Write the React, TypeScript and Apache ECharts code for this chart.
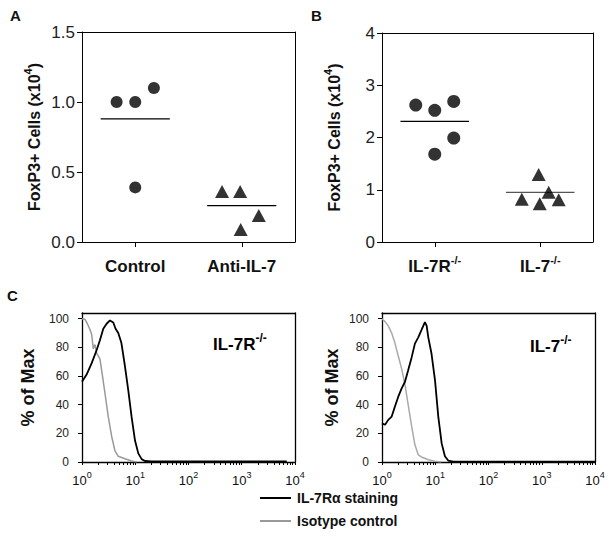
import React, { useEffect, useRef } from "react";
import * as echarts from "echarts";

// ---------- Data ----------
const groupLabelsA = ["Control", "Anti-IL-7"];
const groupLabelsB = [["IL-7R", "-/-"], ["IL-7", "-/-"]];
const groupCenters = [1, 3];

const controlA = [[0.65, 1.0], [1.0, 1.0], [1.35, 1.1], [1.0, 0.39]];
const antiIL7A = [[2.63, 0.36], [2.97, 0.36], [3.32, 0.19], [2.98, 0.09]];
const meansA = [0.88, 0.26];

const il7rKoB = [[0.64, 2.62], [1.0, 2.52], [1.36, 2.69], [1.36, 1.99], [1.0, 1.68]];
const il7KoB = [[2.65, 0.82], [2.99, 0.73], [3.35, 0.81], [3.16, 0.95], [2.97, 1.29]];
const meansB = [2.31, 0.95];

const yTicksA = [0, 0.5, 1.0, 1.5];
const yTicksB = [0, 1, 2, 3, 4];
const yTicksC = [0, 20, 40, 60, 80, 100];
const xDecades = [1, 10, 100, 1000, 10000];
const xDecadeExp = ["0", "1", "2", "3", "4"];
const xMinorTicks = [
  2, 3, 4, 5, 6, 7, 8, 9, 20, 30, 40, 50, 60, 70, 80, 90,
  200, 300, 400, 500, 600, 700, 800, 900, 2000, 3000, 4000, 5000, 6000, 7000, 8000, 9000,
];

// IL-7R-/- histograms
const leftStainX = [1, 1.22, 1.52, 1.88, 2.17, 2.51, 2.9, 3.35, 3.87, 4.27, 4.8, 5.5, 6.4, 7.4, 8.5, 9.9, 11.4, 13.2, 15.2, 20, 100, 1000, 7000];
const leftStainY = [56, 61, 69, 78, 85, 93, 96.5, 98.8, 97.4, 93, 90, 83, 67, 50, 32, 15, 6, 2, 0.7, 0.4, 0.4, 0.4, 0.4];
const leftIsoX = [1, 1.14, 1.28, 1.41, 1.52, 1.63, 1.75, 1.88, 2.17, 2.34, 2.7, 3.1, 3.6, 4.15, 4.8, 6.4, 8.5, 10.6];
const leftIsoY = [100, 99.5, 96, 92.5, 89, 79, 82, 76, 72, 64, 48, 32, 18, 8, 4, 2.3, 0.7, 0];
// IL-7-/- histograms
const rightStainX = [1, 1.14, 1.31, 1.52, 1.75, 2.02, 2.34, 2.7, 3.1, 3.6, 4.15, 4.8, 5.5, 6.4, 6.9, 7.4, 8.5, 9.9, 11.4, 13.2, 15.2, 17.5, 21.8, 100, 1000, 10000];
const rightStainY = [27, 26, 29.4, 31.7, 38.7, 45.6, 51.4, 56, 64, 73, 82.6, 87, 92, 97.7, 95, 87, 75.7, 57, 31.7, 13, 4, 1, 0.2, 0.2, 0.2, 0.2];
const rightIsoX = [1, 1.14, 1.31, 1.52, 1.75, 2.02, 2.34, 2.7, 3.1, 3.6, 4.15, 4.8, 5.5, 7.4, 9.9, 13];
const rightIsoY = [100, 98, 95, 90, 83, 74, 65, 54, 40, 25, 12, 5, 3.5, 1.6, 0.5, 0];

const seriesNames = ["IL-7R\u03b1 staining", "Isotype control"];

// ---------- Styles ----------
const FONT = "'Liberation Sans', Arial, sans-serif";
const MEAN_HALF = 0.65;

const zip = (xs: number[], ys: number[]) => xs.map((x, i) => [x, ys[i]]);

const supRich = (size: number, supSize: number, weight: string) => ({
  b: { fontFamily: FONT, fontSize: size, fontWeight: weight, color: "#111", lineHeight: size + 4, verticalAlign: "bottom" },
  s: { fontFamily: FONT, fontSize: supSize, fontWeight: weight, color: "#111", lineHeight: supSize + 2, verticalAlign: "top" },
});

function plotGrid(left: number, top: number, width: number, height: number) {
  return { left, top, width, height };
}

function catXAxis(gridIndex: number, formatter: (v: number) => string, rich: any) {
  return {
    type: "value",
    gridIndex,
    min: 0,
    max: 4,
    splitLine: { show: false },
    axisLine: { show: true, lineStyle: { color: "#000", width: 1 } },
    axisTick: { show: true, customValues: groupCenters, length: 5, lineStyle: { color: "#000" } },
    axisLabel: { customValues: groupCenters, formatter, margin: 12, rich, fontFamily: FONT },
  };
}

function frameAxis(gridIndex: number, position: string, type: string, min: number, max: number, width: number) {
  return {
    type,
    gridIndex,
    position,
    min,
    max,
    splitLine: { show: false },
    axisLine: { show: true, onZero: false, lineStyle: { color: "#000", width } },
    axisTick: { show: false },
    axisLabel: { show: false },
  };
}

function valYAxis(gridIndex: number, max: number, ticks: number[], fmt: (v: number) => string) {
  return {
    type: "value",
    gridIndex,
    min: 0,
    max,
    name: "{b|FoxP3+ Cells (x10}{s|4}{b|)}",
    nameLocation: "middle",
    nameGap: 40,
    nameRotate: 90,
    nameTextStyle: { rich: supRich(16, 11, "bold") },
    splitLine: { show: false },
    axisLine: { show: true, lineStyle: { color: "#000", width: 1 } },
    axisTick: { show: true, customValues: ticks, length: 5, lineStyle: { color: "#000" } },
    axisLabel: { customValues: ticks, formatter: fmt, fontFamily: FONT, fontSize: 17, color: "#222", margin: 7 },
  };
}

function logXAxis(gridIndex: number) {
  return {
    type: "log",
    logBase: 10,
    gridIndex,
    min: 1,
    max: 10000,
    splitLine: { show: false },
    axisLine: { show: true, lineStyle: { color: "#000", width: 1.3 } },
    axisTick: { show: true, customValues: [...xDecades, ...xMinorTicks], length: 3, lineStyle: { color: "#000" } },
    axisLabel: {
      customValues: xDecades,
      formatter: (v: number) => {
        const i = xDecades.findIndex((d) => Math.abs(d - v) / d < 1e-6);
        return `{b|10}{s|${i >= 0 ? xDecadeExp[i] : ""}}`;
      },
      margin: 8,
      rich: supRich(13, 9, "normal"),
    },
  };
}

function pctYAxis(gridIndex: number, nameGap: number) {
  return {
    type: "value",
    gridIndex,
    min: 0,
    max: 104,
    name: "% of Max",
    nameLocation: "middle",
    nameGap,
    nameRotate: 90,
    nameTextStyle: { fontFamily: FONT, fontSize: 18, fontWeight: "bold", color: "#111" },
    splitLine: { show: false },
    axisLine: { show: true, lineStyle: { color: "#000", width: 1.3 } },
    axisTick: { show: true, customValues: yTicksC, length: 4, lineStyle: { color: "#000" } },
    axisLabel: { customValues: yTicksC, fontFamily: FONT, fontSize: 12, color: "#222", margin: 13 },
  };
}

function meanLine(xi: number, yi: number, center: number, mean: number, color: string) {
  return {
    type: "line",
    xAxisIndex: xi,
    yAxisIndex: yi,
    data: [[center - MEAN_HALF, mean], [center + MEAN_HALF, mean]],
    showSymbol: false,
    symbol: "none",
    lineStyle: { color, width: 1.3 },
    silent: true,
    z: 1,
  };
}

function histo(xi: number, name: string, xs: number[], ys: number[], color: string, width: number) {
  return {
    type: "line",
    name,
    xAxisIndex: xi,
    yAxisIndex: xi,
    data: zip(xs, ys),
    showSymbol: false,
    symbol: "none",
    lineStyle: { color, width },
    itemStyle: { color },
    z: name === seriesNames[0] ? 3 : 2,
  };
}

export default function App() {
  const ref = useRef<HTMLDivElement>(null);
  useEffect(() => {
    if (!ref.current) return;
    const chart = echarts.init(ref.current, undefined, { renderer: "svg" });
    const catRich = supRich(17, 11, "bold");
    const option: any = {
      animation: false,
      backgroundColor: "#fff",
      textStyle: { fontFamily: FONT },
      grid: [
        plotGrid(82, 32, 213, 210),
        plotGrid(382, 33, 211, 209),
        plotGrid(82, 313, 213, 149),
        plotGrid(382, 313, 213, 149),
      ],
      xAxis: [
        catXAxis(0, (v: number) => `{b|${groupLabelsA[groupCenters.indexOf(v)] ?? ""}}`, catRich),
        catXAxis(1, (v: number) => {
          const g = groupLabelsB[groupCenters.indexOf(v)];
          return g ? `{b|${g[0]}}{s|${g[1]}}` : "";
        }, catRich),
        logXAxis(2),
        logXAxis(3),
        frameAxis(0, "top", "value", 0, 4, 1),
        frameAxis(1, "top", "value", 0, 4, 1),
        frameAxis(2, "top", "value", 0, 4, 1.3),
        frameAxis(3, "top", "value", 0, 4, 1.3),
      ],
      yAxis: [
        valYAxis(0, 1.5, yTicksA, (v: number) => v.toFixed(1)),
        valYAxis(1, 4, yTicksB, (v: number) => String(v)),
        pctYAxis(2, 45),
        pctYAxis(3, 41),
        frameAxis(0, "right", "value", 0, 1, 1),
        frameAxis(1, "right", "value", 0, 1, 1),
        frameAxis(2, "right", "value", 0, 1, 1.3),
        frameAxis(3, "right", "value", 0, 1, 1.3),
      ],
      legend: {
        orient: "vertical",
        left: 255,
        top: 486,
        itemWidth: 31,
        itemHeight: 2,
        itemGap: 9,
        icon: "rect",
        data: seriesNames,
        textStyle: { fontFamily: FONT, fontSize: 14, fontWeight: "bold", color: "#111", padding: [0, 0, 0, 1] },
      },
      series: [
        { type: "scatter", xAxisIndex: 0, yAxisIndex: 0, data: controlA, symbol: "circle", symbolSize: 12, itemStyle: { color: "#000" } },
        { type: "scatter", xAxisIndex: 0, yAxisIndex: 0, data: antiIL7A, symbol: "triangle", symbolSize: [14, 13], itemStyle: { color: "#000" } },
        meanLine(0, 0, groupCenters[0], meansA[0], "#000"),
        meanLine(0, 0, groupCenters[1], meansA[1], "#000"),
        { type: "scatter", xAxisIndex: 1, yAxisIndex: 1, data: il7rKoB, symbol: "circle", symbolSize: 13, itemStyle: { color: "#000" } },
        { type: "scatter", xAxisIndex: 1, yAxisIndex: 1, data: il7KoB, symbol: "triangle", symbolSize: [14, 13], itemStyle: { color: "#000" } },
        meanLine(1, 1, groupCenters[0], meansB[0], "#000"),
        meanLine(1, 1, groupCenters[1], meansB[1], "#555"),
        histo(2, seriesNames[1], leftIsoX, leftIsoY, "#999", 1.5),
        histo(2, seriesNames[0], leftStainX, leftStainY, "#000", 1.8),
        histo(3, seriesNames[1], rightIsoX, rightIsoY, "#aaa", 1.5),
        histo(3, seriesNames[0], rightStainX, rightStainY, "#000", 1.8),
      ],
      graphic: [
        { type: "text", left: 10, top: 8, style: { text: "A", fontFamily: FONT, fontSize: 15, fontWeight: "bold", fill: "#111" } },
        { type: "text", left: 311, top: 8, style: { text: "B", fontFamily: FONT, fontSize: 15, fontWeight: "bold", fill: "#111" } },
        { type: "text", left: 7, top: 288, style: { text: "C", fontFamily: FONT, fontSize: 15, fontWeight: "bold", fill: "#111" } },
        { type: "text", left: 213, top: 332, style: { text: "{b|IL-7R}{s|-/-}", rich: supRich(17, 12, "bold") } },
        { type: "text", left: 530, top: 334, style: { text: "{b|IL-7}{s|-/-}", rich: supRich(17, 12, "bold") } },
      ],
    };
    chart.setOption(option);
    return () => chart.dispose();
  }, []);
  return <div ref={ref} style={{ position: "absolute", left: 0, top: 0, width: 611, height: 537 }} />;
}
